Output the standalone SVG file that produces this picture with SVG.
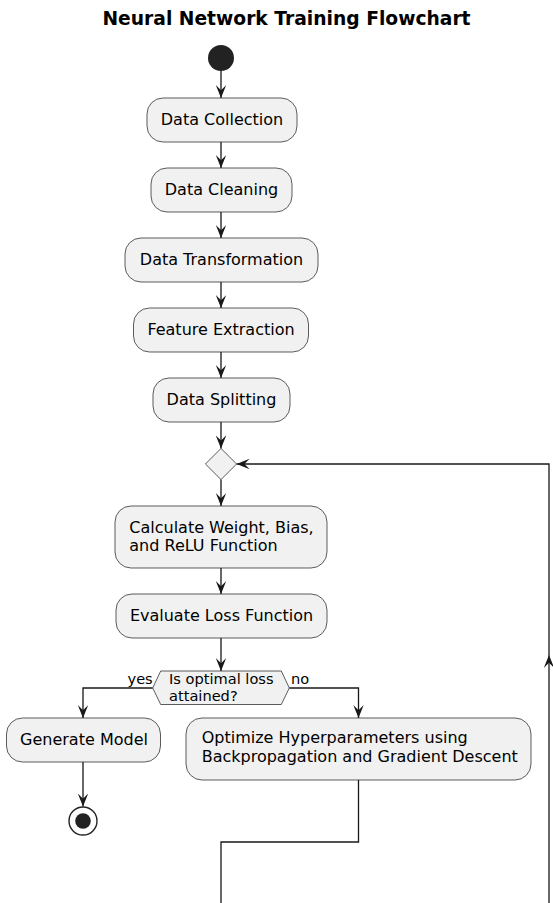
<svg xmlns="http://www.w3.org/2000/svg" width="553" height="903" viewBox="0 0 553 903">
<defs>
<style>
.box{fill:#F1F1F1;stroke:#181818;stroke-width:0.7}
.t{font-family:"DejaVu Sans",sans-serif;font-size:16px;fill:#000}
.s{font-family:"DejaVu Sans",sans-serif;font-size:14.6px;fill:#000}
.c{text-anchor:middle}
.ln{fill:none;stroke:#181818;stroke-width:1.3}
.title{font-family:"DejaVu Sans",sans-serif;font-size:18.7px;font-weight:bold;fill:#000;text-anchor:middle}
</style>
<marker id="ah" markerUnits="userSpaceOnUse" markerWidth="14" markerHeight="12" refX="13" refY="5.2" orient="auto">
<path d="M0,0 L13,5.2 L0,10.4 L5.2,5.2 Z" fill="#181818"/>
</marker>
</defs>
<rect width="553" height="903" fill="#FFFFFF"/>
<text class="title" x="286.5" y="25">Neural Network Training Flowchart</text>

<g id="connectors">
<path class="ln" d="M221,71 V98" marker-end="url(#ah)"/>
<path class="ln" d="M221,142 V168" marker-end="url(#ah)"/>
<path class="ln" d="M221,212 V238" marker-end="url(#ah)"/>
<path class="ln" d="M221,282 V308" marker-end="url(#ah)"/>
<path class="ln" d="M221,352 V378" marker-end="url(#ah)"/>
<path class="ln" d="M221,422 V448.4" marker-end="url(#ah)"/>
<path class="ln" d="M221,479.6 V506" marker-end="url(#ah)"/>
<path class="ln" d="M221,568 V594" marker-end="url(#ah)"/>
<path class="ln" d="M221,638 V671" marker-end="url(#ah)"/>
<path class="ln" d="M152.7,688 H83 V718" marker-end="url(#ah)"/>
<path class="ln" d="M289.3,688 H358.5 V718" marker-end="url(#ah)"/>
<path class="ln" d="M83,762 V806.5" marker-end="url(#ah)"/>
<path class="ln" d="M358.5,780 V842 H221 V910"/>
<path class="ln" d="M549,910 V655" marker-end="url(#ah)"/>
<path class="ln" d="M549,655 V464 H236.6" marker-end="url(#ah)"/>
<text class="s" x="127.5" y="684">yes</text>
<text class="s" x="291" y="684">no</text>
</g>

<g id="start"><circle cx="221" cy="58" r="13" fill="#222222"/></g>

<g id="data-collection">
<rect class="box" x="147" y="98" width="150" height="44" rx="16" ry="16"/>
<text class="t c" x="222" y="124.5">Data Collection</text>
</g>
<g id="data-cleaning">
<rect class="box" x="151" y="168" width="141" height="44" rx="16" ry="16"/>
<text class="t c" x="221.5" y="194.5">Data Cleaning</text>
</g>
<g id="data-transformation">
<rect class="box" x="125" y="238" width="193" height="44" rx="16" ry="16"/>
<text class="t c" x="221.5" y="264.5">Data Transformation</text>
</g>
<g id="feature-extraction">
<rect class="box" x="133.5" y="308" width="175" height="44" rx="16" ry="16"/>
<text class="t c" x="221" y="334.5">Feature Extraction</text>
</g>
<g id="data-splitting">
<rect class="box" x="153" y="378" width="137" height="44" rx="16" ry="16"/>
<text class="t c" x="221.5" y="404.5">Data Splitting</text>
</g>
<g id="merge">
<polygon class="box" points="221,448.4 236.6,464 221,479.6 205.4,464"/>
</g>
<g id="calculate">
<rect class="box" x="115" y="506" width="212" height="62" rx="16" ry="16"/>
<text class="t" x="129.3" y="532.7">Calculate Weight, Bias,</text>
<text class="t" x="129.3" y="550.9">and ReLU Function</text>
</g>
<g id="evaluate">
<rect class="box" x="116" y="594" width="211" height="44" rx="16" ry="16"/>
<text class="t c" x="221.5" y="620.5">Evaluate Loss Function</text>
</g>
<g id="decision">
<polygon class="box" points="152.7,688 160.7,671 281.3,671 289.3,688 281.3,704.5 160.7,704.5"/>
<text class="s" x="169" y="684">Is optimal loss</text>
<text class="s" x="169" y="700.7">attained?</text>
</g>
<g id="generate-model">
<rect class="box" x="6.5" y="718" width="154" height="44" rx="16" ry="16"/>
<text class="t c" x="84" y="744.5">Generate Model</text>
</g>
<g id="optimize">
<rect class="box" x="186" y="718" width="345" height="62" rx="16" ry="16"/>
<text class="t" x="201.7" y="743.3">Optimize Hyperparameters using</text>
<text class="t" x="201.7" y="761.5">Backpropagation and Gradient Descent</text>
</g>
<g id="end">
<circle cx="83" cy="821" r="14" fill="#FFFFFF" stroke="#222222" stroke-width="1.4"/>
<circle cx="83" cy="821" r="7.8" fill="#222222"/>
</g>
</svg>
